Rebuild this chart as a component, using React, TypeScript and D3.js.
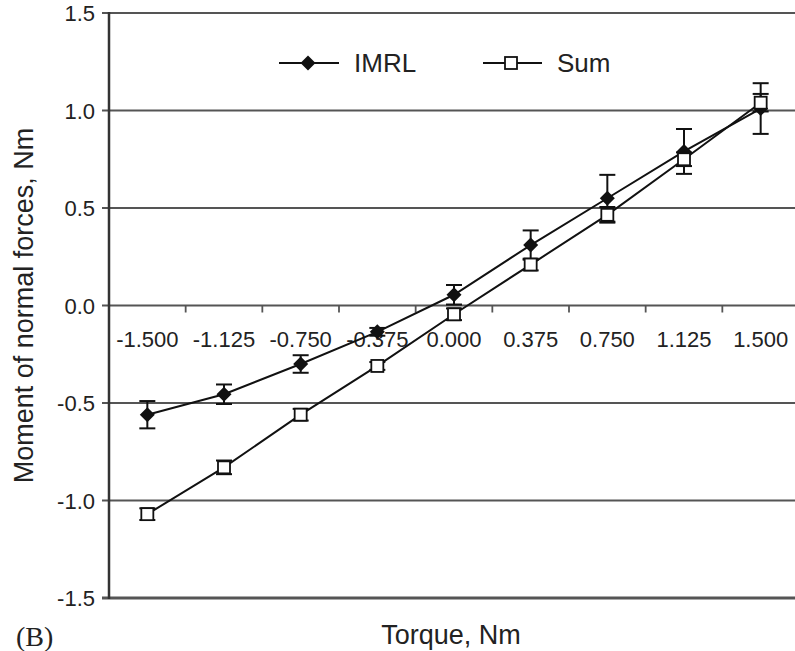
import * as d3 from 'd3';

const torque = ['-1.500', '-1.125', '-0.750', '-0.375', '0.000', '0.375', '0.750', '1.125', '1.500'];
const imrl = [-0.56, -0.455, -0.30, -0.135, 0.055, 0.31, 0.55, 0.79, 1.01];
const imrlErr = [0.07, 0.05, 0.045, 0.02, 0.05, 0.075, 0.12, 0.115, 0.13];
const sum = [-1.07, -0.83, -0.56, -0.31, -0.045, 0.21, 0.465, 0.75, 1.04];
const sumErr = [0.03, 0.035, 0.03, 0.02, 0.03, 0.03, 0.04, 0.035, 0.045];
const yTicks = [-1.5, -1.0, -0.5, 0.0, 0.5, 1.0, 1.5];

const W = 795;
const H = 651;
const font = '"Liberation Sans", Arial, sans-serif';

export default function App() {
  // plot area runs a little past the right edge, like the cropped original
  const x = d3.scaleBand<string>().domain(torque).range([109, 799]);
  const y = d3.scaleLinear().domain([-1.5, 1.5]).range([598, 13]);
  const cx = (d: string) => (x(d) as number) + x.bandwidth() / 2;

  const line = d3.line<number>()
    .x((_, i) => cx(torque[i]))
    .y((d) => y(d));

  const errBars = (vals: number[], errs: number[]) =>
    vals.map((v, i) => {
      const px = cx(torque[i]);
      const top = y(v + errs[i]);
      const bot = y(v - errs[i]);
      return (
        <g key={i} stroke="#111" strokeWidth={2}>
          <line x1={px} x2={px} y1={top} y2={bot} />
          <line x1={px - 8} x2={px + 8} y1={top} y2={top} />
          <line x1={px - 8} x2={px + 8} y1={bot} y2={bot} />
        </g>
      );
    });

  const diamond = (px: number, py: number, r = 7.5) =>
    `M${px},${py - r}L${px + r},${py}L${px},${py + r}L${px - r},${py}Z`;

  return (
    <svg width={W} height={H} style={{ position: 'absolute', left: 0, top: 0, background: '#fff' }}>
      {/* horizontal gridlines + y ticks */}
      {yTicks.map((t) => (
        <g key={t}>
          <line x1={102} x2={W} y1={y(t)} y2={y(t)} stroke="#555" strokeWidth={t === -1.5 ? 3 : 1.8} />
          <text x={95} y={y(t) + 8} textAnchor="end" fontFamily={font} fontSize={22} fill="#222">
            {t.toFixed(1)}
          </text>
        </g>
      ))}
      {/* y axis */}
      <line x1={109} x2={109} y1={12} y2={599} stroke="#333" strokeWidth={2.5} />

      {/* category ticks on zero line */}
      {torque.slice(1).map((t) => (
        <line key={t} x1={x(t)} x2={x(t)} y1={y(0)} y2={y(0) + 7} stroke="#555" strokeWidth={1.8} />
      ))}
      {torque.map((t) => (
        <text key={t} x={cx(t)} y={347} textAnchor="middle" fontFamily={font} fontSize={22} fill="#222">
          {t}
        </text>
      ))}

      {/* IMRL */}
      {errBars(imrl, imrlErr)}
      <path d={line(imrl) ?? ''} fill="none" stroke="#111" strokeWidth={2} />
      {imrl.map((v, i) => (
        <path key={i} d={diamond(cx(torque[i]), y(v))} fill="#111" />
      ))}

      {/* Sum */}
      {errBars(sum, sumErr)}
      <path d={line(sum) ?? ''} fill="none" stroke="#111" strokeWidth={2} />
      {sum.map((v, i) => (
        <rect key={i} x={cx(torque[i]) - 6} y={y(v) - 6} width={12} height={12} fill="#fff" stroke="#111" strokeWidth={1.8} />
      ))}

      {/* legend */}
      <line x1={279} x2={339} y1={63} y2={63} stroke="#111" strokeWidth={2} />
      <path d={diamond(308, 63)} fill="#111" />
      <text x={354} y={72} fontFamily={font} fontSize={26} fill="#222">IMRL</text>
      <line x1={483} x2={542} y1={63} y2={63} stroke="#111" strokeWidth={2} />
      <rect x={505} y={57} width={12} height={12} fill="#fff" stroke="#111" strokeWidth={1.8} />
      <text x={557} y={72} fontFamily={font} fontSize={26} fill="#222">Sum</text>

      {/* titles */}
      <text x={451} y={644} textAnchor="middle" fontFamily={font} fontSize={27} fill="#222">Torque, Nm</text>
      <text
        transform={`translate(33,${y(0)}) rotate(-90)`}
        textAnchor="middle"
        fontFamily={font}
        fontSize={27}
        fill="#222"
      >
        Moment of normal forces, Nm
      </text>
      <text x={16} y={646} fontFamily='"Liberation Serif", "Times New Roman", serif' fontSize={28} fill="#222">(B)</text>
    </svg>
  );
}
